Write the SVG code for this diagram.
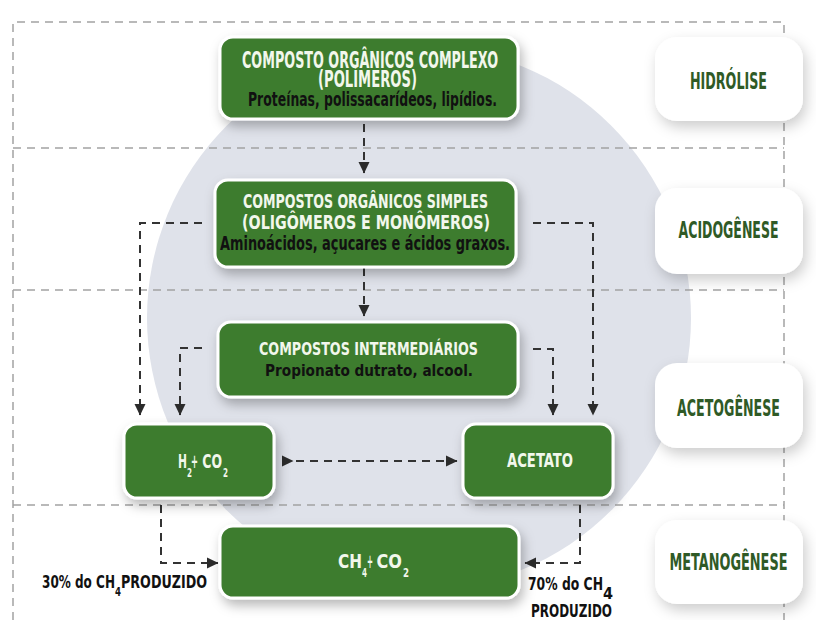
<svg xmlns="http://www.w3.org/2000/svg" width="816" height="620" viewBox="0 0 816 620">
<defs>
<style>
.t{font-family:"DejaVu Sans Condensed","DejaVu Sans","Liberation Sans",sans-serif;font-weight:bold;}
.w{fill:#f2f7ec;}
.k{fill:#111;}
.g{fill:#2f5a26;}
.box{fill:#3e7b2f;stroke:#fff;stroke-width:3;filter:url(#sh);}
.lab{fill:#fff;filter:url(#sh2);}
.grid{fill:none;stroke:#a3a3a3;stroke-width:1.5;stroke-dasharray:8 6;}
.con{fill:none;stroke:#333;stroke-width:2;stroke-dasharray:8 6;}
</style>
<filter id="sh" x="-20%" y="-30%" width="150%" height="170%">
<feDropShadow dx="3" dy="6" stdDeviation="6" flood-color="#000" flood-opacity="0.28"/>
</filter>
<filter id="sh2" x="-20%" y="-30%" width="150%" height="170%">
<feDropShadow dx="3" dy="6" stdDeviation="7" flood-color="#000" flood-opacity="0.2"/>
</filter>
<marker id="arr" viewBox="0 0 12 12" refX="11" refY="6" markerWidth="12" markerHeight="12" markerUnits="userSpaceOnUse" orient="auto">
<path d="M0,0.5 L11.5,6 L0,11.5 z" fill="#2b2b2b"/>
</marker>
<marker id="arrS" viewBox="0 0 12 12" refX="0" refY="6" markerWidth="12" markerHeight="12" markerUnits="userSpaceOnUse" orient="auto">
<path d="M0,0.5 L11.5,6 L0,11.5 z" fill="#2b2b2b"/>
</marker>
</defs>
<rect width="816" height="620" fill="#fff"/>
<circle cx="419" cy="318" r="272" fill="#dfe2ea"/>
<g id="grid">
<path class="grid" d="M13,620 V22 H784 V620"/>
<path class="grid" d="M13,148 H784 M13,290 H784 M13,505 H784"/>
</g>
<g id="connectors">
<path class="con" d="M364,124 V173" marker-end="url(#arr)"/>
<path class="con" d="M364,268 V316" marker-end="url(#arr)"/>
<path class="con" d="M202,223 H140 V415" marker-end="url(#arr)"/>
<path class="con" d="M533,223 H593 V415" marker-end="url(#arr)"/>
<path class="con" d="M202,348 H180 V415" marker-end="url(#arr)"/>
<path class="con" d="M533,349 H553 V415" marker-end="url(#arr)"/>
<path class="con" d="M282,461 H457" marker-start="url(#arrS)" marker-end="url(#arr)"/>
<path class="con" d="M161,505 V563 H218" marker-end="url(#arr)"/>
<path class="con" d="M580,505 V563 H525" marker-end="url(#arr)"/>
</g>
<g id="n-complexo">
<rect class="box" x="220" y="37" width="298" height="82" rx="13"/>
<text class="t w" x="242" y="68" font-size="23" textLength="256" lengthAdjust="spacingAndGlyphs">COMPOSTO ORGÂNICOS COMPLEXO</text>
<text class="t w" x="318" y="87" font-size="23" textLength="99" lengthAdjust="spacingAndGlyphs">(POLÍMEROS)</text>
<text class="t k" x="248" y="106" font-size="19" textLength="249" lengthAdjust="spacingAndGlyphs">Proteínas, polissacarídeos, lipídios.</text>
</g>
<g id="n-simples">
<rect class="box" x="215" y="180" width="301" height="87" rx="13"/>
<text class="t w" x="243" y="208" font-size="19" textLength="245" lengthAdjust="spacingAndGlyphs">COMPOSTOS ORGÂNICOS SIMPLES</text>
<text class="t w" x="242" y="229" font-size="19" textLength="248" lengthAdjust="spacingAndGlyphs">(OLIGÔMEROS E MONÔMEROS)</text>
<text class="t k" x="220" y="250" font-size="19" textLength="290" lengthAdjust="spacingAndGlyphs">Aminoácidos, açucares e ácidos graxos.</text>
</g>
<g id="n-intermediarios">
<rect class="box" x="218" y="322" width="300" height="75" rx="13"/>
<text class="t w" x="259" y="355" font-size="18.5" textLength="219" lengthAdjust="spacingAndGlyphs">COMPOSTOS INTERMEDIÁRIOS</text>
<text class="t k" x="265" y="376" font-size="15.5" textLength="208" lengthAdjust="spacingAndGlyphs">Propionato dutrato, alcool.</text>
</g>
<g id="n-h2co2">
<rect class="box" x="124" y="424" width="150" height="74" rx="13"/>
<text class="t w" font-size="20"><tspan x="178" y="468" textLength="9" lengthAdjust="spacingAndGlyphs">H</tspan><tspan x="187" y="477" font-size="13" textLength="5" lengthAdjust="spacingAndGlyphs">2</tspan><tspan x="191" y="468" textLength="7" lengthAdjust="spacingAndGlyphs">+</tspan><tspan x="198" y="468" textLength="24" lengthAdjust="spacingAndGlyphs"> CO</tspan><tspan x="223" y="477" font-size="13" textLength="5" lengthAdjust="spacingAndGlyphs">2</tspan></text>
</g>
<g id="n-acetato">
<rect class="box" x="463" y="424" width="150" height="74" rx="13"/>
<text class="t w" x="507" y="467" font-size="20" textLength="66" lengthAdjust="spacingAndGlyphs">ACETATO</text>
</g>
<g id="n-ch4co2">
<rect class="box" x="220" y="526" width="299" height="72" rx="13"/>
<text class="t w" font-size="20"><tspan x="338" y="568" textLength="24" lengthAdjust="spacingAndGlyphs">CH</tspan><tspan x="362" y="577" font-size="13" textLength="5" lengthAdjust="spacingAndGlyphs">4</tspan><tspan x="367" y="568" textLength="6" lengthAdjust="spacingAndGlyphs">+</tspan><tspan x="371" y="568" textLength="31" lengthAdjust="spacingAndGlyphs"> CO</tspan><tspan x="403" y="577" font-size="13" textLength="6" lengthAdjust="spacingAndGlyphs">2</tspan></text>
</g>
<g id="lbl-30">
<text class="t k" font-size="17"><tspan x="42" y="588" textLength="73" lengthAdjust="spacingAndGlyphs">30% do CH</tspan><tspan x="115" y="596" font-size="13" textLength="6" lengthAdjust="spacingAndGlyphs">4</tspan><tspan x="121" y="588" textLength="86" lengthAdjust="spacingAndGlyphs">PRODUZIDO</tspan></text>
</g>
<g id="lbl-70">
<text class="t k" font-size="18"><tspan x="528" y="590" textLength="75" lengthAdjust="spacingAndGlyphs">70% do CH</tspan><tspan x="603" y="599" font-size="15" textLength="10" lengthAdjust="spacingAndGlyphs">4</tspan></text>
<text class="t k" x="531" y="617" font-size="18" textLength="81" lengthAdjust="spacingAndGlyphs">PRODUZIDO</text>
</g>
<g id="s-hidrolise">
<rect class="lab" x="655" y="37" width="148" height="84" rx="22"/>
<text class="t g" x="690" y="89" font-size="23" textLength="77" lengthAdjust="spacingAndGlyphs">HIDRÓLISE</text>
</g>
<g id="s-acidogenese">
<rect class="lab" x="655" y="188" width="148" height="86" rx="22"/>
<text class="t g" x="678.5" y="238" font-size="23" textLength="100" lengthAdjust="spacingAndGlyphs">ACIDOGÊNESE</text>
</g>
<g id="s-acetogenese">
<rect class="lab" x="655" y="363" width="148" height="85" rx="22"/>
<text class="t g" x="677" y="416" font-size="23" textLength="103" lengthAdjust="spacingAndGlyphs">ACETOGÊNESE</text>
</g>
<g id="s-metanogenese">
<rect class="lab" x="655" y="520" width="148" height="84" rx="22"/>
<text class="t g" x="669.5" y="570" font-size="23" textLength="118" lengthAdjust="spacingAndGlyphs">METANOGÊNESE</text>
</g>
</svg>
